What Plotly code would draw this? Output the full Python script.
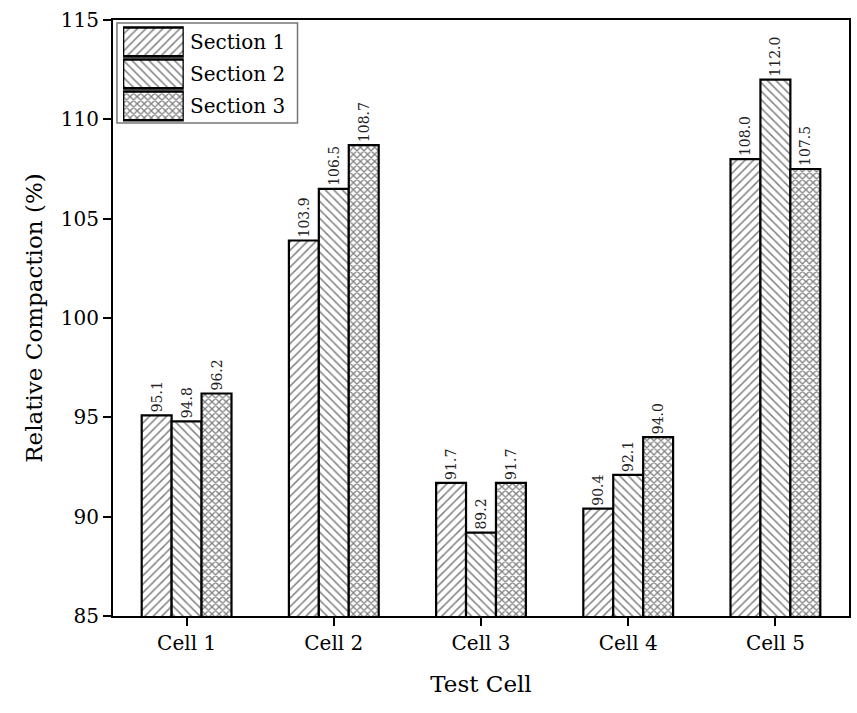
import plotly.graph_objects as go

# Relative compaction per test cell and section
cells = ["Cell 1", "Cell 2", "Cell 3", "Cell 4", "Cell 5"]
section_names = ["Section 1", "Section 2", "Section 3"]
section_1 = [95.1, 103.9, 91.7, 90.4, 108.0]
section_2 = [94.8, 106.5, 89.2, 92.1, 112.0]
section_3 = [96.2, 108.7, 91.7, 94.0, 107.5]
y_ticks = [85, 90, 95, 100, 105, 110, 115]

series = [section_1, section_2, section_3]
patterns = [
    dict(shape="/", fgcolor="black", bgcolor="white", size=6, solidity=0.25),
    dict(shape="\\", fgcolor="black", bgcolor="white", size=6, solidity=0.25),
    dict(shape="x", fgcolor="black", bgcolor="white", size=5, solidity=0.45),
]

FONT = "DejaVu Serif"

fig = go.Figure()
for name, vals, pat in zip(section_names, series, patterns):
    fig.add_trace(go.Bar(
        x=cells, y=vals, name=name,
        marker=dict(color="white", line=dict(color="black", width=2.2), pattern=pat),
        texttemplate="%{y:.1f}", textposition="outside", textangle=-90,
        constraintext="none",
        textfont=dict(family=FONT, size=14, color="#222"),
        cliponaxis=False, showlegend=False,
    ))

# Legend drawn as an inset of wide swatches
legend_pos = [0, 1, 2]
for name, pat, pos in zip(section_names, patterns, legend_pos):
    fig.add_trace(go.Bar(
        x=[1], y=[pos], orientation="h", width=0.9, base=0,
        marker=dict(color="white", line=dict(color="black", width=2.6), pattern=pat),
        xaxis="x2", yaxis="y2", showlegend=False, hoverinfo="skip",
    ))
    fig.add_annotation(
        x=1, y=pos, xref="x2", yref="y2", text=name, showarrow=False,
        xanchor="left", yanchor="middle", xshift=4,
        font=dict(family=FONT, size=20, color="black"),
    )

fig.add_shape(type="rect", xref="paper", yref="paper",
              x0=0.0054, x1=0.2507, y0=0.827, y1=0.995,
              line=dict(color="#777", width=1.5), fillcolor="rgba(0,0,0,0)")

fig.update_layout(
    width=857, height=713,
    margin=dict(l=113, r=6, t=20, b=97),
    plot_bgcolor="white", paper_bgcolor="white",
    barmode="group", bargap=0.39, bargroupgap=0,
    font=dict(family=FONT, color="black"),
    xaxis=dict(
        title=dict(text="Test Cell", font=dict(size=23), standoff=22),
        tickfont=dict(size=20),
        showline=True, linecolor="black", linewidth=2, mirror=True,
        ticks="outside", ticklen=8, tickwidth=2, tickcolor="black",
        showgrid=False, range=[-0.5, 4.5],
    ),
    yaxis=dict(
        title=dict(text="Relative Compaction (%)", font=dict(size=23), standoff=12),
        tickfont=dict(size=20),
        range=[85, 115], tickvals=y_ticks,
        showline=True, linecolor="black", linewidth=2, mirror=True,
        ticks="outside", ticklen=8, tickwidth=2, tickcolor="black",
        showgrid=False, zeroline=False,
    ),
    xaxis2=dict(domain=[0.0136, 0.0962], range=[0, 1], anchor="y2",
                visible=False, fixedrange=True),
    yaxis2=dict(domain=[0.829, 0.990], range=[2.5, -0.5], anchor="x2",
                visible=False, fixedrange=True),
)

fig.write_html("out.html")
